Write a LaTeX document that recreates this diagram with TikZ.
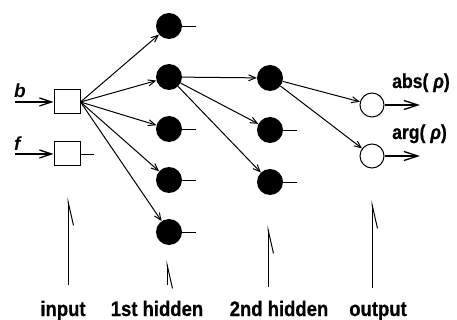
\documentclass[tikz,border=0pt]{standalone}
\usepackage{fontspec}
\setmainfont{Liberation Sans}
\newfontfamily\lab[FakeStretch=0.88,FakeBold=0.6]{Liberation Sans}
\usetikzlibrary{arrows.meta}
\begin{document}
\begin{tikzpicture}[x=1pt,y=-1pt,
  hid/.style={circle,fill=black,minimum size=26pt,inner sep=0pt},
  outn/.style={circle,draw,line width=1pt,minimum size=24pt,inner sep=0pt},
  inp/.style={draw,line width=1pt,minimum width=26pt,minimum height=24pt,inner sep=0pt},
  conn/.style={line width=1pt,-{Straight Barb[length=7pt,width=6pt]}},
  inarr/.style={line width=1.3pt,-{Straight Barb[length=12pt,width=8pt]}},
  outarr/.style={line width=1.3pt,-{Straight Barb[length=14pt,width=9pt]}},
  stub/.style={line width=0.7pt},
  ptr/.style={line width=1pt,-{Straight Barb[right,length=24pt,width=11pt]}},
  lbl/.style={font=\lab\bfseries\fontsize{21}{21}\selectfont,anchor=base,inner sep=0pt},
  olbl/.style={font=\lab\bfseries\fontsize{20}{20}\selectfont,anchor=base west,inner sep=0pt},
  ilbl/.style={font=\bfseries\itshape\fontsize{19}{19}\selectfont,anchor=base west,inner sep=0pt},
]
\useasboundingbox (0,0) rectangle (457,320);
% input layer
\node[inp] (b) at (67,102) {};
\node[inp] (f) at (67,154) {};
% first hidden layer
\node[hid] (h1) at (169,26) {};
\node[hid] (h2) at (169,77) {};
\node[hid] (h3) at (169,129) {};
\node[hid] (h4) at (169,180) {};
\node[hid] (h5) at (169,232) {};
% second hidden layer
\node[hid] (g1) at (270,78) {};
\node[hid] (g2) at (270,130) {};
\node[hid] (g3) at (270,182) {};
% output layer
\node[outn] (o1) at (372,105) {};
\node[outn] (o2) at (372,156) {};
% inputs
\coordinate (bs) at (15,102);
\coordinate (fs) at (15,154);
\draw[inarr] (bs) -- (b.west);
\draw[inarr] (fs) -- (f.west);
\node[ilbl] (bl) at (14,98) {b};
\node[ilbl] (fl) at (14,151) {f};
% connections
\foreach \h in {h1,h2,h3,h4,h5} \draw[conn] (b.east) -- (\h);
\foreach \g in {g1,g2,g3} \draw[conn] (h2) -- (\g);
\foreach \o in {o1,o2} \draw[conn] (g1) -- (\o);
% stubs
\draw[stub] (f.east) -- ++(13,0);
\foreach \h in {h1,h3,h4,h5} \draw[stub] (\h.east) -- ++(14,0);
\foreach \g in {g2,g3} \draw[stub] (\g.east) -- ++(14,0);
% outputs
\coordinate (oa) at (420,105);
\coordinate (ob) at (420,156);
\draw[outarr] (o1.east) -- (oa);
\draw[outarr] (o2.east) -- (ob);
\node[olbl] (absl) at (392,88) {abs( \textit{ρ})};
\node[olbl] (argl) at (392,139) {arg( \textit{ρ})};
% layer pointers
\coordinate (p1a) at (68,285); \coordinate (p1b) at (68,197);
\coordinate (p2a) at (167,285); \coordinate (p2b) at (167,260);
\coordinate (p3a) at (268,287); \coordinate (p3b) at (268,225);
\coordinate (p4a) at (372,288); \coordinate (p4b) at (372,200);
\draw[ptr] (p1a) -- (p1b);
\draw[ptr] (p2a) -- (p2b);
\draw[ptr] (p3a) -- (p3b);
\draw[ptr] (p4a) -- (p4b);
% layer labels
\node[lbl] (li) at (63,316) {input};
\node[lbl] (l1) at (157,316) {1st hidden};
\node[lbl] (l2) at (279,316) {2nd hidden};
\node[lbl] (lo) at (378,316) {output};
\end{tikzpicture}
\end{document}
